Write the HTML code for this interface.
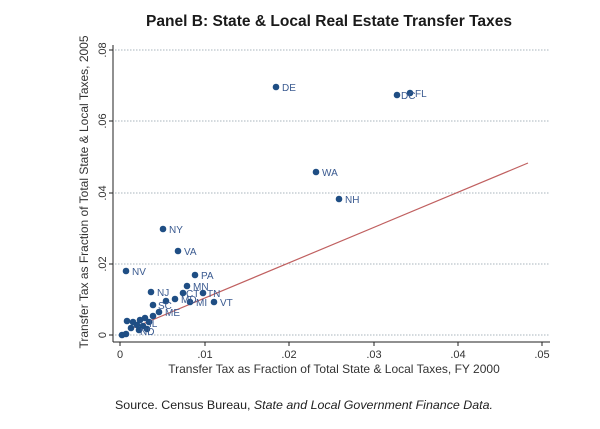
<!DOCTYPE html>
<html><head><style>body{margin:0;background:#fff}svg{display:block}</style></head><body>
<svg width="600" height="429" xmlns="http://www.w3.org/2000/svg" font-family="Liberation Sans, sans-serif">
<rect width="600" height="429" fill="#fff"/>
<text x="329" y="26" text-anchor="middle" font-size="15.5" font-weight="bold" fill="#1a1a1a" textLength="366" lengthAdjust="spacingAndGlyphs">Panel B: State &amp; Local Real Estate Transfer Taxes</text>
<g stroke="#a8b4bc" stroke-dasharray="1.5,1.5" stroke-width="1">
<line x1="115" y1="50" x2="550" y2="50"/><line x1="115" y1="121" x2="550" y2="121"/><line x1="115" y1="193" x2="550" y2="193"/><line x1="115" y1="264" x2="550" y2="264"/><line x1="115" y1="335" x2="550" y2="335"/>
</g>
<g stroke="#222" stroke-width="1">
<line x1="113" y1="45" x2="113" y2="342"/><line x1="113" y1="342" x2="550" y2="342"/>
<line x1="109" y1="50" x2="113" y2="50"/><line x1="109" y1="121" x2="113" y2="121"/><line x1="109" y1="193" x2="113" y2="193"/><line x1="109" y1="264" x2="113" y2="264"/><line x1="109" y1="335" x2="113" y2="335"/>
<line x1="120" y1="342" x2="120" y2="346"/><line x1="205" y1="342" x2="205" y2="346"/><line x1="289" y1="342" x2="289" y2="346"/><line x1="374" y1="342" x2="374" y2="346"/><line x1="458" y1="342" x2="458" y2="346"/><line x1="542" y1="342" x2="542" y2="346"/>
</g>
<g font-size="11" fill="#333" text-anchor="middle">
<text transform="translate(106,50) rotate(-90)">.08</text>
<text transform="translate(106,121) rotate(-90)">.06</text>
<text transform="translate(106,193) rotate(-90)">.04</text>
<text transform="translate(106,264) rotate(-90)">.02</text>
<text transform="translate(106,335) rotate(-90)">0</text>
<text x="120" y="358">0</text><text x="205" y="358">.01</text><text x="289" y="358">.02</text><text x="374" y="358">.03</text><text x="458" y="358">.04</text><text x="542" y="358">.05</text>
<text x="334" y="373" font-size="12">Transfer Tax as Fraction of Total State &amp; Local Taxes, FY 2000</text>
<text transform="translate(88,192) rotate(-90)" font-size="12">Transfer Tax as Fraction of Total State &amp; Local Taxes, 2005</text>
</g>
<text x="115" y="409" font-size="12" fill="#222" textLength="378" lengthAdjust="spacingAndGlyphs">Source.  Census Bureau, <tspan font-style="italic">State and Local Government Finance Data.</tspan></text>
<line x1="133" y1="328" x2="528" y2="163" stroke="#c06060" stroke-width="1.2"/>
<g fill="#1f4e84">
<circle cx="276" cy="87" r="3.3"/><circle cx="397" cy="95" r="3.3"/><circle cx="410" cy="93" r="3.3"/><circle cx="316" cy="172" r="3.3"/><circle cx="339" cy="199" r="3.3"/><circle cx="163" cy="229" r="3.3"/><circle cx="178" cy="251" r="3.3"/><circle cx="126" cy="271" r="3.3"/><circle cx="195" cy="275" r="3.3"/><circle cx="187" cy="286" r="3.3"/><circle cx="151" cy="292" r="3.3"/><circle cx="183" cy="293" r="3.3"/><circle cx="203" cy="293" r="3.3"/><circle cx="175" cy="299" r="3.3"/><circle cx="166" cy="301" r="3.3"/><circle cx="190" cy="302" r="3.3"/><circle cx="214" cy="302" r="3.3"/><circle cx="153" cy="305" r="3.3"/><circle cx="159" cy="312" r="3.3"/>
<circle cx="127" cy="321" r="3.3"/><circle cx="133" cy="322" r="3.3"/><circle cx="140" cy="320" r="3.3"/><circle cx="145" cy="318" r="3.3"/><circle cx="137" cy="325" r="3.3"/><circle cx="143" cy="326" r="3.3"/><circle cx="131" cy="328" r="3.3"/><circle cx="149" cy="322" r="3.3"/><circle cx="139" cy="330" r="3.3"/><circle cx="126" cy="334" r="3.3"/><circle cx="122" cy="335" r="3.3"/><circle cx="153" cy="316" r="3.3"/><circle cx="147" cy="329" r="3.3"/>
</g>
<g font-size="10" fill="#3a5a90">
<text x="282" y="91">DE</text><text x="401" y="99">DC</text><text x="415" y="97">FL</text><text x="322" y="176">WA</text><text x="345" y="203">NH</text><text x="169" y="233">NY</text><text x="184" y="255">VA</text><text x="132" y="275">NV</text><text x="201" y="279">PA</text><text x="193" y="290">MN</text><text x="157" y="296">NJ</text><text x="186" y="297">CT</text><text x="207" y="297">TN</text><text x="181" y="303">MD</text><text x="196" y="306">MI</text><text x="220" y="306">VT</text><text x="158" y="309">SC</text><text x="165" y="316">ME</text><text x="149" y="327">IL</text><text x="140" y="335">ND</text>
</g>
</svg>
</body></html>
